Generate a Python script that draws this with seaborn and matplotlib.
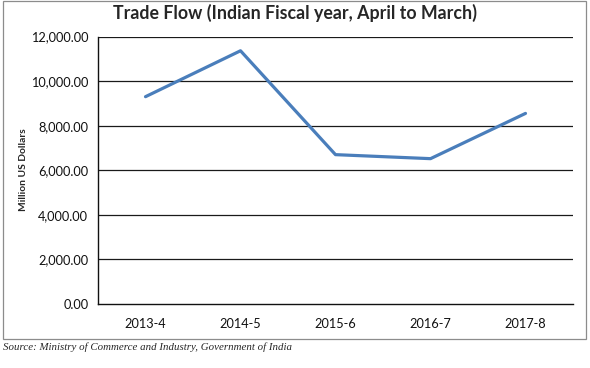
"""
Trade Flow line chart (Indian fiscal year, April to March).
"""

import pandas as pd
import matplotlib.pyplot as plt
import seaborn as sns
from matplotlib.patches import Rectangle
from matplotlib.ticker import FuncFormatter

YEARS = ["2013-4", "2014-5", "2015-6", "2016-7", "2017-8"]
TRADE_MUSD = [9300, 11360, 6700, 6520, 8550]
Y_TICKS = [0, 2000, 4000, 6000, 8000, 10000, 12000]

LINE_COLOR = "#4A7EBB"
FONT = ["Lato", "DejaVu Sans"]


def plot_trade(df: pd.DataFrame, output_path: str) -> None:
    sns.set_style("white")
    plt.rcParams["font.family"] = FONT

    fig = plt.figure(figsize=(5.9, 3.68), dpi=100)
    ax = fig.add_axes([98 / 590, 1 - 304 / 368, 475 / 590, 267.5 / 368])

    for yv in Y_TICKS[1:]:
        ax.axhline(yv, color="#1a1a1a", lw=0.9, zorder=1)

    sns.lineplot(data=df, x="year", y="value", ax=ax, color=LINE_COLOR,
                 lw=2.3, sort=False, zorder=3)

    ax.set_xlim(-0.5, len(YEARS) - 0.5)
    ax.set_ylim(0, 12000)
    ax.set_yticks(Y_TICKS)
    ax.yaxis.set_major_formatter(FuncFormatter(lambda v, _: f"{v:,.2f}"))
    ax.tick_params(axis="both", length=0, labelsize=9.2, colors="#111111")
    ax.tick_params(axis="x", pad=10)
    ax.tick_params(axis="y", pad=7)
    ax.set_xlabel("")
    ax.set_ylabel("")

    for side in ["top", "right"]:
        ax.spines[side].set_visible(False)
    for side in ["left", "bottom"]:
        ax.spines[side].set_color("#111111")
        ax.spines[side].set_linewidth(1.0)

    fig.text(0.5, 1 - 13 / 368, "Trade Flow (Indian Fiscal year, April to March)",
             ha="center", va="center", fontsize=12.8, fontweight="bold")
    fig.text(24 / 590, 1 - 170 / 368, "Million US Dollars", rotation=90,
             ha="center", va="center", fontsize=7.4, fontweight="bold")
    fig.text(3 / 590, 1 - 350 / 368,
             "Source: Ministry of Commerce and Industry, Government of India",
             ha="left", va="baseline", fontsize=7.8, style="italic",
             family="Liberation Serif")

    fig.patches.append(Rectangle((3 / 590, 1 - 339 / 368), 583 / 590, 338 / 368,
                                 transform=fig.transFigure, fill=False,
                                 edgecolor="#8c8c8c", lw=0.9))

    fig.savefig(output_path, dpi=100)
    plt.close(fig)


def main():
    df = pd.DataFrame({"year": YEARS, "value": TRADE_MUSD})
    plot_trade(df, "out.png")


if __name__ == "__main__":
    main()
